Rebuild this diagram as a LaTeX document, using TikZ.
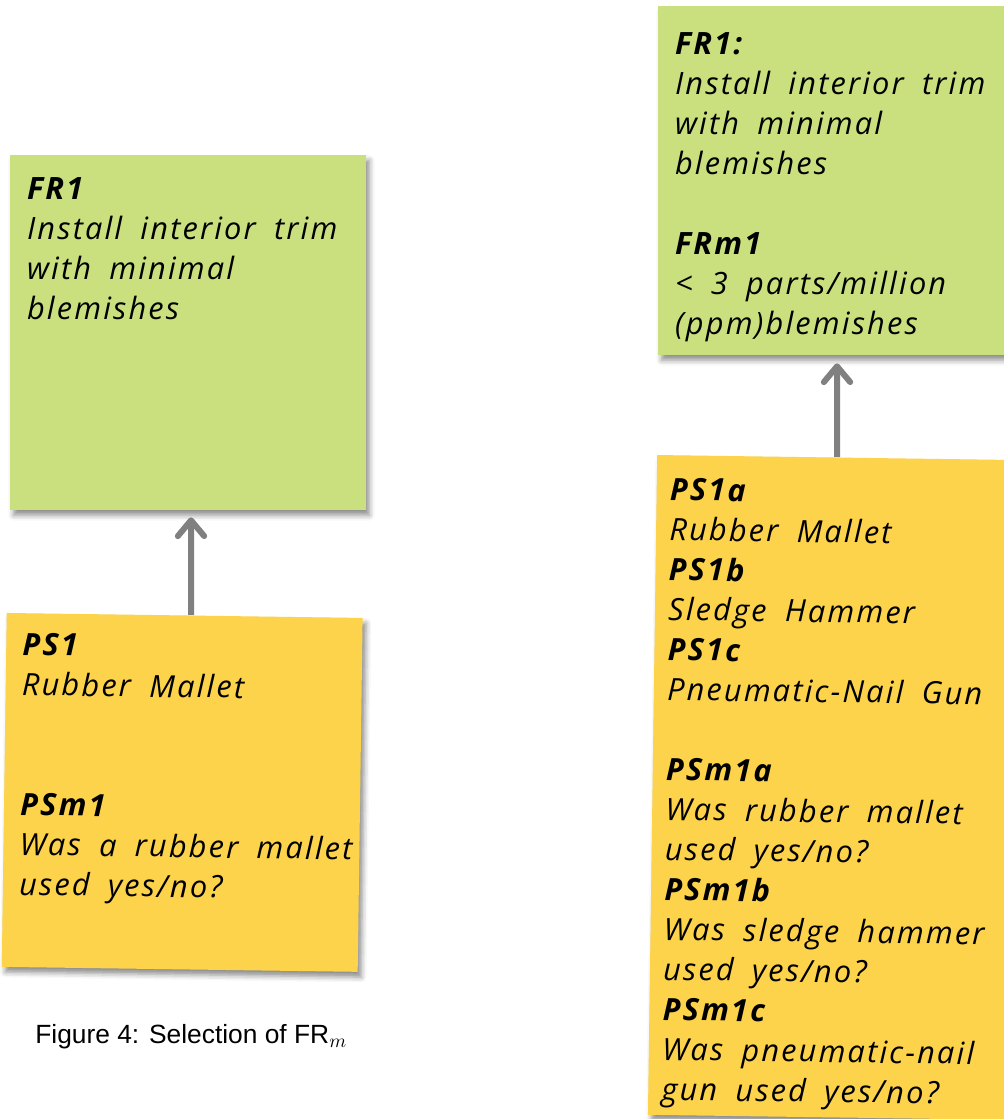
\documentclass[tikz,border=0pt]{standalone}
\usepackage{fontspec}
\setmainfont{Liberation Sans}
\newfontfamily\notefont[LetterSpace=7,WordSpace=1.8]{Open Sans}
\usetikzlibrary{arrows.meta,shadows.blur,calc}

\definecolor{notegreen}{RGB}{202,224,126}
\definecolor{noteyellow}{RGB}{252,211,74}
\definecolor{linkgray}{RGB}{128,128,128}

\begin{document}
\begin{tikzpicture}[x=0.02cm,y=-0.02cm,
  note/.style={rectangle, inner sep=0pt, minimum width=7.12cm,
    blur shadow={shadow xshift=2pt, shadow yshift=-3pt, shadow blur radius=3pt, shadow opacity=45}},
  frnote/.style={note, fill=notegreen},
  psnote/.style={note, fill=noteyellow},
  notetext/.style={anchor=north west, inner sep=0pt, align=left,
    font=\notefont\fontsize{17.5}{22.76}\selectfont\itshape},
  link/.style={draw=linkgray, line width=3.4pt,
    -{Straight Barb[length=9pt,width=15pt,round]}},
]
\useasboundingbox (0,0) rectangle (1004,1119);

% left pair: functional requirement above, process solution below
\node[frnote, minimum height=7.1cm] (fr1) at (188,332.5) {};
\node[notetext] (fr1txt) at ($(fr1.north west)+(17,23)$)
  {\textbf{FR1}\\Install interior trim\\with minimal\\blemishes};

\node[psnote, minimum height=7.08cm, rotate=-0.8] (ps1) at (182.2,792.4) {};
\node[notetext, rotate=-0.8] (ps1txt) at ($(ps1.north west)+(16,20)$)
  {\textbf{PS1}\\Rubber Mallet\\[45.5pt]\textbf{PSm1}\\Was a rubber mallet\\used yes/no?};

\draw[link] ([xshift=0.13cm]ps1.north) -- ([xshift=0.06cm,yshift=-0.14cm]fr1.south);

\node[font=\fontsize{15}{17}\selectfont, anchor=west, inner sep=0pt] (caption) at (35,1037)
  {Figure 4: Selection of FR$_m$};

% right pair: requirement with its metric, alternative solutions with their metrics
\node[frnote, minimum height=6.98cm] (fr1m) at (836,180.5) {};
\node[notetext] (fr1mtxt) at ($(fr1m.north west)+(17,27)$)
  {\textbf{FR1:}\\Install interior trim\\with minimal\\blemishes\\[22.76pt]\textbf{FRm1}\\< 3 parts/million\\(ppm)blemishes};

\node[psnote, minimum height=13.2cm, rotate=-0.8] (ps1m) at (830.5,787.4) {};
\node[notetext, rotate=-0.8] (ps1mtxt) at ($(ps1m.north west)+(13,23)$)
  {\textbf{PS1a}\\Rubber Mallet\\\textbf{PS1b}\\Sledge Hammer\\\textbf{PS1c}\\Pneumatic-Nail Gun\\[22.76pt]
   \textbf{PSm1a}\\Was rubber mallet\\used yes/no?\\\textbf{PSm1b}\\Was sledge hammer\\used yes/no?\\
   \textbf{PSm1c}\\Was pneumatic-nail\\gun used yes/no?};

\draw[link] ([xshift=0.04cm]ps1m.north) -- ([xshift=0.02cm,yshift=-0.16cm]fr1m.south);
\end{tikzpicture}
\end{document}
